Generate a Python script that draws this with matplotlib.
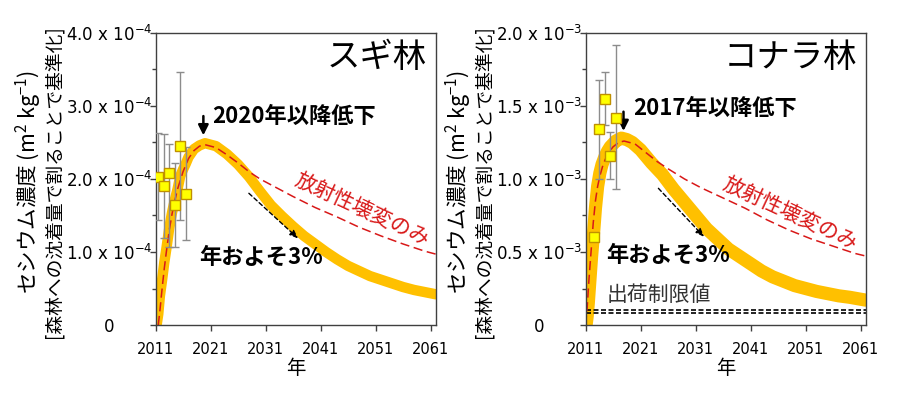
import numpy as np
import matplotlib.pyplot as plt
from matplotlib.ticker import MultipleLocator

plt.rcParams['font.family'] = ['Noto Sans CJK JP', 'DejaVu Sans']
plt.rcParams['mathtext.default'] = 'regular'

# ---- スギ林 (values x 1e-4) ----
sugi_obs_year = [2011.5, 2012.5, 2013.5, 2014.5, 2015.5, 2016.5]
sugi_obs = [2.03, 1.90, 2.08, 1.64, 2.45, 1.79]
sugi_obs_lo = [1.44, 1.19, 1.07, 1.07, 1.44, 1.16]
sugi_obs_hi = [2.63, 2.62, 2.48, 2.22, 3.47, 2.44]

sugi_year = [2011.2, 2011.5, 2011.8, 2012.2, 2012.6, 2013.0, 2013.5, 2014.0, 2014.5,
             2015.0, 2015.5, 2016.0, 2016.5, 2017.0, 2018.0, 2019.0, 2020.0, 2022.0,
             2024.0, 2026.0, 2028.0, 2030.0, 2032.0, 2034.0, 2036.0, 2038.0, 2040.0,
             2042.0, 2044.0, 2046.0, 2048.0, 2050.0, 2052.0, 2054.0, 2056.0, 2058.0,
             2060.0, 2062.0]
sugi_model = [0.0, 0.15, 0.40, 0.62, 0.86, 1.06, 1.33, 1.54, 1.71,
              1.86, 2.04, 2.13, 2.21, 2.30, 2.41, 2.46, 2.49, 2.45,
              2.34, 2.20, 2.03, 1.83, 1.64, 1.49, 1.35, 1.22, 1.11,
              1.00, 0.90, 0.81, 0.74, 0.67, 0.62, 0.57, 0.52, 0.48,
              0.45, 0.42]

sugi_decay_year = [2011.5, 2011.8, 2012.2, 2012.6, 2013.0, 2013.5, 2014.0, 2014.5,
                   2015.0, 2016.0, 2017.0, 2018.0, 2019.0, 2020.0, 2022.0, 2024.0,
                   2026.0, 2028.0, 2030.0, 2033.0, 2036.0, 2040.0, 2044.0, 2048.0,
                   2052.0, 2056.0, 2060.0, 2062.0]
sugi_decay = [0.0, 0.20, 0.50, 0.78, 1.02, 1.30, 1.52, 1.70,
              1.86, 2.10, 2.28, 2.39, 2.45, 2.47, 2.43, 2.33,
              2.22, 2.10, 2.00, 1.88, 1.76, 1.61, 1.48, 1.34,
              1.22, 1.11, 1.01, 0.97]

# ---- コナラ林 (values x 1e-3) ----
konara_obs_year = [2012.5, 2013.5, 2014.5, 2015.5, 2016.5]
konara_obs = [0.60, 1.34, 1.55, 1.16, 1.42]
konara_obs_lo = [0.60, 1.00, 1.37, 1.00, 0.93]
konara_obs_hi = [0.60, 1.68, 1.73, 1.32, 1.92]

konara_year = [2011.1, 2011.3, 2011.5, 2011.8, 2012.1, 2012.5, 2012.8, 2013.2, 2013.6,
               2014.0, 2014.5, 2015.0, 2015.5, 2016.5, 2017.5, 2018.5, 2019.5, 2021.0,
               2023.0, 2025.0, 2027.0, 2029.0, 2031.0, 2033.0, 2035.0, 2037.0, 2039.0,
               2041.0, 2043.0, 2045.0, 2047.0, 2049.0, 2051.0, 2053.0, 2055.0, 2057.0,
               2059.0, 2062.0]
konara_model = [0.0, 0.06, 0.15, 0.31, 0.47, 0.65, 0.80, 0.95, 1.04,
                1.10, 1.15, 1.19, 1.22, 1.26, 1.28, 1.27, 1.25, 1.20,
                1.11, 1.03, 0.93, 0.84, 0.75, 0.66, 0.59, 0.52, 0.47,
                0.42, 0.37, 0.33, 0.30, 0.27, 0.25, 0.23, 0.215, 0.20,
                0.19, 0.17]

konara_decay_year = [2011.0, 2011.3, 2011.6, 2012.0, 2012.4, 2012.8, 2013.2, 2013.6,
                     2014.2, 2015.0, 2016.0, 2017.0, 2018.0, 2020.0, 2022.0, 2024.0,
                     2026.0, 2029.0, 2032.0, 2036.0, 2040.0, 2044.0, 2048.0, 2052.0,
                     2056.0, 2060.0, 2062.2]
konara_decay = [0.0, 0.12, 0.30, 0.50, 0.70, 0.85, 0.95, 1.02,
                1.10, 1.17, 1.22, 1.25, 1.26, 1.24, 1.18, 1.12,
                1.07, 1.00, 0.94, 0.87, 0.80, 0.72, 0.65, 0.59,
                0.54, 0.49, 0.47]

limit_levels = [0.10, 0.08]

xticks = [2011, 2021, 2031, 2041, 2051, 2061]
sugi_yticklabels = ['0', '1.0 x 10$^{-4}$', '2.0 x 10$^{-4}$', '3.0 x 10$^{-4}$', '4.0 x 10$^{-4}$']
konara_yticklabels = ['0', '0.5 x 10$^{-3}$', '1.0 x 10$^{-3}$', '1.5 x 10$^{-3}$', '2.0 x 10$^{-3}$']

ORANGE = '#FFC000'
RED = '#D81818'
SPINE = '#404040'

fig = plt.figure(figsize=(9, 3.95), dpi=100)
ax1 = fig.add_axes([0.1728, 0.1772, 0.3117, 0.7393])
ax2 = fig.add_axes([0.6506, 0.1772, 0.3117, 0.7393])


def style_axes(ax, ymax, ystep, labels):
    ax.set_xlim(2011, 2062)
    ax.set_ylim(0, ymax)
    ax.set_xticks(xticks)
    ax.set_xticklabels([str(t) for t in xticks], fontsize=10.5, fontfamily='DejaVu Sans')
    ax.set_yticks(np.arange(0, ymax + ystep / 2, ystep))
    ax.set_yticklabels(labels, fontsize=12, fontfamily='DejaVu Sans', ha='center')
    ax.yaxis.set_minor_locator(MultipleLocator(ystep / 2))
    ax.tick_params(axis='both', which='major', direction='out', length=4,
                   width=1, color=SPINE)
    ax.tick_params(axis='x', which='major', pad=8)
    ax.tick_params(axis='y', which='major', pad=29.5)
    ax.tick_params(axis='y', which='minor', direction='out', length=3,
                   width=1, color=SPINE)
    for s in ax.spines.values():
        s.set_color(SPINE)
        s.set_linewidth(1)
    ax.set_xlabel('年', fontsize=14, labelpad=1)


# left panel
ax1.plot(sugi_year, sugi_model, color=ORANGE, lw=7.5, solid_capstyle='round',
         solid_joinstyle='round', zorder=2)
ax1.plot(sugi_decay_year, sugi_decay, color=RED, lw=1.1, dashes=(6, 3), zorder=2.5)
ax1.errorbar(sugi_obs_year, sugi_obs,
             yerr=[np.array(sugi_obs) - np.array(sugi_obs_lo),
                   np.array(sugi_obs_hi) - np.array(sugi_obs)],
             fmt='s', ms=7, mfc='#FFFF00', mec='#C09000', mew=1,
             ecolor='#8c8c8c', elinewidth=1, capsize=3, zorder=3)
style_axes(ax1, 4, 1, sugi_yticklabels)

ax1.text(2060.4, 3.66, 'スギ林', fontsize=24, ha='right', va='center')
ax1.annotate('', xy=(2019.7, 2.56), xytext=(2019.7, 2.90),
             arrowprops=dict(arrowstyle='-|>,head_width=0.3,head_length=0.6',
                             color='black', lw=1.8))
ax1.text(2021.3, 2.85, '2020年以降低下', fontsize=16, fontweight='bold',
         ha='left', va='center')
ax1.annotate('', xy=(2037.3, 1.16), xytext=(2027.6, 1.83),
             arrowprops=dict(arrowstyle='-|>,head_width=0.2,head_length=0.5',
                             color='black', lw=1, linestyle=(0, (3, 2))))
ax1.text(2018.9, 0.93, '年およそ3%', fontsize=16, fontweight='bold',
         ha='left', va='center')
ax1.text(2048.5, 1.58, '放射性壊変のみ', fontsize=15, color=RED,
         rotation=-25, rotation_mode='anchor', ha='center', va='center')

# right panel
ax2.plot(konara_year, konara_model, color=ORANGE, lw=9.5, solid_capstyle='round',
         solid_joinstyle='round', zorder=2)
ax2.plot(konara_decay_year, konara_decay, color=RED, lw=1.1, dashes=(6, 3), zorder=2.5)
for lv in limit_levels:
    ax2.axhline(lv, color='black', lw=1.2, dashes=(3, 1.5), zorder=2)
ax2.errorbar(konara_obs_year, konara_obs,
             yerr=[np.array(konara_obs) - np.array(konara_obs_lo),
                   np.array(konara_obs_hi) - np.array(konara_obs)],
             fmt='s', ms=7, mfc='#FFFF00', mec='#C09000', mew=1,
             ecolor='#8c8c8c', elinewidth=1, capsize=3, zorder=3)
style_axes(ax2, 2, 0.5, konara_yticklabels)

ax2.text(2060.4, 1.83, 'コナラ林', fontsize=24, ha='right', va='center')
ax2.annotate('', xy=(2017.9, 1.31), xytext=(2017.9, 1.48),
             arrowprops=dict(arrowstyle='-|>,head_width=0.3,head_length=0.6',
                             color='black', lw=1.8))
ax2.text(2019.6, 1.48, '2017年以降低下', fontsize=16, fontweight='bold',
         ha='left', va='center')
ax2.annotate('', xy=(2032.9, 0.59), xytext=(2023.9, 0.95),
             arrowprops=dict(arrowstyle='-|>,head_width=0.2,head_length=0.5',
                             color='black', lw=1, linestyle=(0, (3, 2))))
ax2.text(2014.7, 0.48, '年およそ3%', fontsize=16, fontweight='bold',
         ha='left', va='center')
ax2.text(2048.2, 0.76, '放射性壊変のみ', fontsize=15, color=RED,
         rotation=-25, rotation_mode='anchor', ha='center', va='center')
ax2.text(2014.9, 0.205, '出荷制限値', fontsize=15, color='#333333',
         ha='left', va='center')

# y-axis labels (two lines each)
label1 = 'セシウム濃度 (m$^{2}$ kg$^{-1}$)'
label2 = '[森林への沈着量で割ることで基準化]'
for x1, x2 in [(0.032, 0.060), (0.510, 0.538)]:
    fig.text(x1, 0.54, label1, rotation=90, fontsize=15.5, ha='center', va='center')
    fig.text(x2, 0.54, label2, rotation=90, fontsize=13.5, ha='center', va='center')

plt.savefig('out.png', dpi=100)
